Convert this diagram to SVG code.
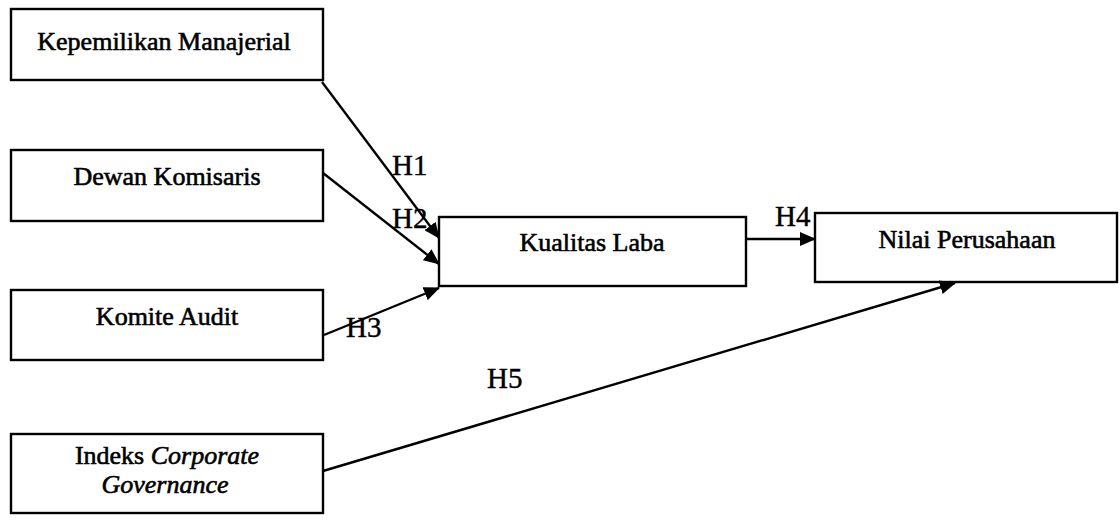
<svg xmlns="http://www.w3.org/2000/svg" width="1120" height="520" viewBox="0 0 1120 520">
  <style>
    .box { fill: #ffffff; stroke: #000000; stroke-width: 2.4; }
    .lbl { font-family: "Liberation Serif", "Times New Roman", serif; font-size: 26px; fill: #000000; text-anchor: middle; stroke: #000; stroke-width: 0.6; }
    .hyp { font-family: "Liberation Serif", "Times New Roman", serif; font-size: 29px; fill: #000000; stroke: #000; stroke-width: 0.4; }
    .edge { stroke: #000000; stroke-width: 2.4; fill: none; marker-end: url(#arrow); }
  </style>
  <defs>
    <marker id="arrow" viewBox="0 0 16 14" refX="15" refY="7" markerWidth="16" markerHeight="14" markerUnits="userSpaceOnUse" orient="auto">
      <path d="M0,0 L16,7 L0,14 Z" fill="#000000"/>
    </marker>
  </defs>
  <rect width="1120" height="520" fill="#ffffff"/>

  <g id="kepemilikan-manajerial">
    <rect class="box" x="11" y="9" width="312" height="71"/>
    <text class="lbl" x="164" y="50">Kepemilikan Manajerial</text>
  </g>
  <g id="dewan-komisaris">
    <rect class="box" x="11" y="150" width="312" height="71"/>
    <text class="lbl" x="167" y="185">Dewan Komisaris</text>
  </g>
  <g id="komite-audit">
    <rect class="box" x="11" y="290" width="312" height="70"/>
    <text class="lbl" x="167" y="325">Komite Audit</text>
  </g>
  <g id="indeks-cg">
    <rect class="box" x="11" y="434" width="312" height="79"/>
    <text class="lbl" x="167" y="464">Indeks <tspan font-style="italic">Corporate</tspan></text>
    <text class="lbl" x="165" y="493" font-style="italic">Governance</text>
  </g>
  <g id="kualitas-laba">
    <rect class="box" x="439" y="217" width="307" height="69"/>
    <text class="lbl" x="592" y="251">Kualitas Laba</text>
  </g>
  <g id="nilai-perusahaan">
    <rect class="box" x="815" y="213" width="302" height="69"/>
    <text class="lbl" x="967" y="248">Nilai Perusahaan</text>
  </g>

  <g id="connectors">
    <line class="edge" x1="322" y1="82" x2="439" y2="238"/>
    <line class="edge" x1="323" y1="173" x2="439" y2="264"/>
    <line class="edge" x1="324" y1="335" x2="439" y2="288"/>
    <line class="edge" x1="746" y1="239" x2="815" y2="239"/>
    <line class="edge" x1="323" y1="471" x2="955" y2="283"/>
    <text class="hyp" x="392" y="175">H1</text>
    <text class="hyp" x="392" y="228">H2</text>
    <text class="hyp" x="346" y="337">H3</text>
    <text class="hyp" x="775" y="226">H4</text>
    <text class="hyp" x="487" y="388">H5</text>
  </g>
</svg>
